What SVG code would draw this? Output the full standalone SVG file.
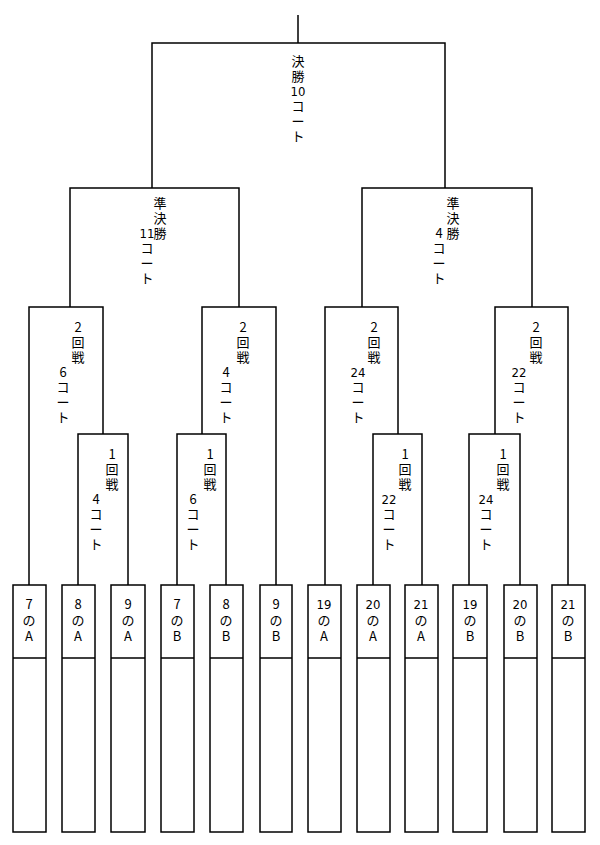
<svg xmlns="http://www.w3.org/2000/svg" width="600" height="845" viewBox="0 0 600 845">
<style>
.l{fill:none;stroke:#000;stroke-width:1.5}
text{font-family:"Noto Sans CJK JP","Liberation Sans",sans-serif;font-size:13px;text-anchor:middle;fill:#000}
.n{font-family:"Liberation Sans Narrow","DejaVu Sans Condensed","Liberation Sans",sans-serif}
</style>
<rect width="600" height="845" fill="#fff"/>
<g id="connectors" class="l">
<path d="M298 15V43M152 188V43H445V188"/>
<path d="M70 307V188H239V307M362 307V188H532V307"/>
<path d="M29 585V307H103V434M276 585V307H202V434M325 585V307H398V434M568 585V307H495V434"/>
<path d="M78 585V434H128V585M177 585V434H226V585M373 585V434H422V585M469 585V434H520V585"/>
</g>
<g id="labels">
<text x="298" y="66">決</text><text x="298" y="81">勝</text><text class="n" x="298" y="96">10</text><text x="298" y="111">コ</text><text x="298" y="126">ー</text><text x="298" y="141">ト</text>
<text x="160" y="208">準</text><text x="160" y="223">決</text><text class="n" x="147" y="238">11</text><text x="160" y="238">勝</text><text x="147" y="253">コ</text><text x="147" y="268">ー</text><text x="147" y="283">ト</text>
<text x="453" y="208">準</text><text x="453" y="223">決</text><text x="439" y="238">4</text><text x="453" y="238">勝</text><text x="439" y="253">コ</text><text x="439" y="268">ー</text><text x="439" y="283">ト</text>
</g>
<g id="r2">
<g id="r2a"><text x="78" y="332">2</text><text x="78" y="347">回</text><text x="78" y="362">戦</text><text x="63" y="377">6</text><text x="63" y="392">コ</text><text x="63" y="407">ー</text><text x="63" y="422">ト</text></g>
<g id="r2b"><text x="243" y="332">2</text><text x="243" y="347">回</text><text x="243" y="362">戦</text><text x="226" y="377">4</text><text x="226" y="392">コ</text><text x="226" y="407">ー</text><text x="226" y="422">ト</text></g>
<g id="r2c"><text x="374" y="332">2</text><text x="374" y="347">回</text><text x="374" y="362">戦</text><text class="n" x="358" y="377">24</text><text x="358" y="392">コ</text><text x="358" y="407">ー</text><text x="358" y="422">ト</text></g>
<g id="r2d"><text x="536" y="332">2</text><text x="536" y="347">回</text><text x="536" y="362">戦</text><text class="n" x="519" y="377">22</text><text x="519" y="392">コ</text><text x="519" y="407">ー</text><text x="519" y="422">ト</text></g>
</g>
<g id="r1">
<g id="r1a"><text x="112" y="459">1</text><text x="112" y="474">回</text><text x="112" y="489">戦</text><text x="96" y="504">4</text><text x="96" y="519">コ</text><text x="96" y="534">ー</text><text x="96" y="549">ト</text></g>
<g id="r1b"><text x="210" y="459">1</text><text x="210" y="474">回</text><text x="210" y="489">戦</text><text x="193" y="504">6</text><text x="193" y="519">コ</text><text x="193" y="534">ー</text><text x="193" y="549">ト</text></g>
<g id="r1c"><text x="405" y="459">1</text><text x="405" y="474">回</text><text x="405" y="489">戦</text><text class="n" x="389" y="504">22</text><text x="389" y="519">コ</text><text x="389" y="534">ー</text><text x="389" y="549">ト</text></g>
<g id="r1d"><text x="503" y="459">1</text><text x="503" y="474">回</text><text x="503" y="489">戦</text><text class="n" x="486" y="504">24</text><text x="486" y="519">コ</text><text x="486" y="534">ー</text><text x="486" y="549">ト</text></g>
</g>
<g id="boxes" class="l">
<rect x="13" y="585" width="33" height="247"/><rect x="62" y="585" width="33" height="247"/><rect x="111" y="585" width="34" height="247"/>
<rect x="161" y="585" width="33" height="247"/><rect x="210" y="585" width="33" height="247"/><rect x="260" y="585" width="32" height="247"/>
<rect x="308" y="585" width="33" height="247"/><rect x="357" y="585" width="33" height="247"/><rect x="405" y="585" width="33" height="247"/>
<rect x="453" y="585" width="34" height="247"/><rect x="504" y="585" width="33" height="247"/><rect x="552" y="585" width="33" height="247"/>
<path d="M13 658H46M62 658H95M111 658H145M161 658H194M210 658H243M260 658H292M308 658H341M357 658H390M405 658H438M453 658H487M504 658H537M552 658H585"/>
</g>
<g id="teams">
<text x="29" y="609">7</text><text x="29" y="625">の</text><text x="29" y="641">A</text>
<text x="78" y="609">8</text><text x="78" y="625">の</text><text x="78" y="641">A</text>
<text x="128" y="609">9</text><text x="128" y="625">の</text><text x="128" y="641">A</text>
<text x="177" y="609">7</text><text x="177" y="625">の</text><text x="177" y="641">B</text>
<text x="226" y="609">8</text><text x="226" y="625">の</text><text x="226" y="641">B</text>
<text x="276" y="609">9</text><text x="276" y="625">の</text><text x="276" y="641">B</text>
<text class="n" x="324" y="609">19</text><text x="324" y="625">の</text><text x="324" y="641">A</text>
<text class="n" x="373" y="609">20</text><text x="373" y="625">の</text><text x="373" y="641">A</text>
<text class="n" x="421" y="609">21</text><text x="421" y="625">の</text><text x="421" y="641">A</text>
<text class="n" x="470" y="609">19</text><text x="470" y="625">の</text><text x="470" y="641">B</text>
<text class="n" x="520" y="609">20</text><text x="520" y="625">の</text><text x="520" y="641">B</text>
<text class="n" x="568" y="609">21</text><text x="568" y="625">の</text><text x="568" y="641">B</text>
</g>
</svg>
